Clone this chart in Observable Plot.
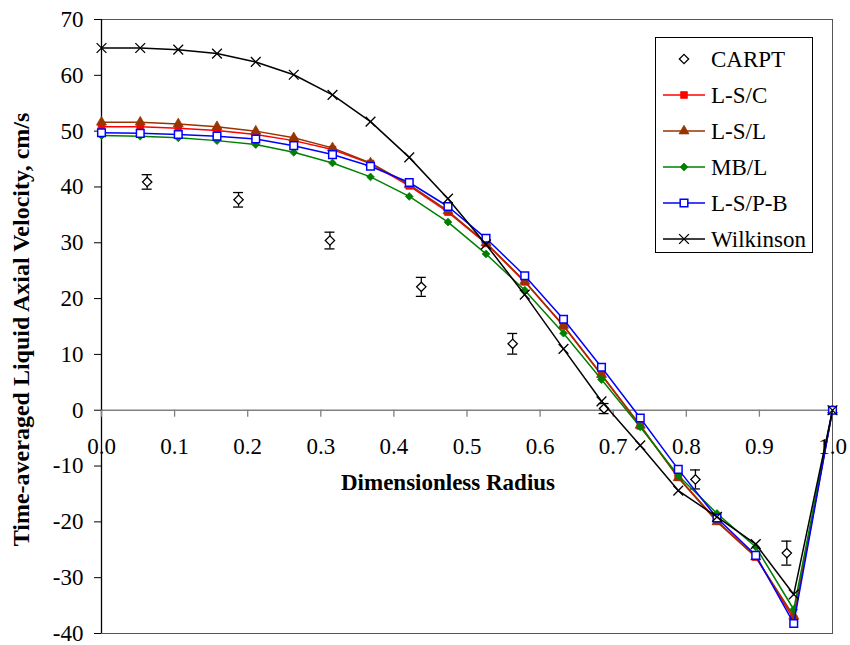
<!DOCTYPE html>
<html><head><meta charset="utf-8">
<script src="https://cdn.jsdelivr.net/npm/d3@7"></script>
<script src="https://cdn.jsdelivr.net/npm/@observablehq/plot@0.6"></script>
<style>
html,body{margin:0;padding:0;background:#fff;}
#wrap{position:relative;width:850px;height:645px;}
</style></head><body><div id="wrap"></div>
<script>
// ---- data ----
const radius = [0, 0.053, 0.105, 0.158, 0.211, 0.263, 0.316, 0.368, 0.421, 0.474,
                0.526, 0.579, 0.632, 0.684, 0.737, 0.789, 0.842, 0.895, 0.947, 1.0];
const lsC   = [50.8, 50.8, 50.5, 50.1, 49.4, 48.3, 46.7, 44.2, 40.2, 35.5, 29.9, 23.0, 15.1, 6.3, -2.8, -12.0, -19.8, -26.3, -37.4, 0];
const lsL   = [51.6, 51.6, 51.3, 50.8, 50.0, 48.8, 47.0, 44.3, 40.4, 35.7, 30.0, 23.1, 15.2, 6.4, -2.7, -12.1, -20.0, -26.3, -36.9, 0];
const mbL   = [49.2, 49.1, 48.8, 48.3, 47.6, 46.2, 44.3, 41.8, 38.3, 33.7, 28.0, 21.5, 13.8, 5.5, -3.0, -11.7, -18.5, -24.5, -35.7, 0];
const lsPB  = [49.7, 49.6, 49.4, 49.1, 48.6, 47.4, 45.8, 43.7, 40.8, 36.5, 30.8, 24.1, 16.3, 7.7, -1.4, -10.6, -19.3, -26.0, -38.2, 0];
const wilk  = [64.9, 64.9, 64.6, 63.9, 62.4, 60.1, 56.5, 51.7, 45.3, 37.9, 29.7, 20.7, 11.0, 1.6, -6.3, -14.4, -19.1, -24.0, -33.0, 0];

const carptR   = [0.0625, 0.1875, 0.3125, 0.4375, 0.5625, 0.6875, 0.8125, 0.9375];
const carptV   = [40.9, 37.7, 30.4, 22.1, 11.9, 0.3, -12.4, -25.6];
const carptErr = [1.3, 1.3, 1.5, 1.7, 1.85, 0.9, 1.7, 2.15];

const seriesNames  = ["L-S/C", "L-S/L", "MB/L", "L-S/P-B", "Wilkinson"];
const seriesValues = [lsC, lsL, mbL, lsPB, wilk];
const seriesColors = ["#ff0000", "#993300", "#008000", "#0000ff", "#000000"];

const xTicks = [0, 0.1, 0.2, 0.3, 0.4, 0.5, 0.6, 0.7, 0.8, 0.9, 1.0];
const xTickLabels = ["0.0", "0.1", "0.2", "0.3", "0.4", "0.5", "0.6", "0.7", "0.8", "0.9", "1.0"];
const yTicks = [-40, -30, -20, -10, 0, 10, 20, 30, 40, 50, 60, 70];
const xTitle = "Dimensionless Radius";
const yTitle = "Time-averaged Liquid Axial Velocity, cm/s";

const serif = '"Liberation Serif", "Times New Roman", serif';

// ---- marker styles ----
const markerStyle = {
  "CARPT":     {symbol: "diamond2", r: 4.2, fill: "#fff", stroke: "#000", strokeWidth: 1.3},
  "L-S/C":     {symbol: "square", r: 3.8, fill: "#ff0000", stroke: "#ff0000", strokeWidth: 0.8},
  "L-S/L":     {symbol: "triangle", r: 3.7, fill: "#993300", stroke: "#993300", strokeWidth: 0.8},
  "MB/L":      {symbol: "diamond2", r: 3.5, fill: "#008000", stroke: "#008000", strokeWidth: 0.8},
  "L-S/P-B":   {symbol: "square", r: 4.3, fill: "#fff", stroke: "#0000ff", strokeWidth: 1.5},
  "Wilkinson": {symbol: "times", r: 4.5, fill: "none", stroke: "#000", strokeWidth: 1.3}
};

const carpt = carptR.map((r, i) => ({r, v: carptV[i], lo: carptV[i] - carptErr[i], hi: carptV[i] + carptErr[i]}));
const series = seriesNames.map((name, s) => ({
  name, color: seriesColors[s],
  rows: radius.map((r, i) => ({r, v: seriesValues[s][i]}))
}));

const marks = [
  Plot.frame({stroke: "#555", strokeWidth: 1}),
  Plot.ruleY([0], {stroke: "#808080", strokeWidth: 1.6}),
  Plot.ruleX([0], {stroke: "#000", strokeWidth: 1.3}),
  Plot.ruleX(xTicks, {x: d => d, y1: 0, y2: 0, insetBottom: -7, stroke: "#808080", strokeWidth: 1.3}),
  Plot.text(xTicks, {x: d => d, y: 0, text: (d, i) => xTickLabels[i], dy: 36, fontSize: 23, fill: "#000"}),
  Plot.text([xTitle], {y: 0, frameAnchor: "middle", dx: -19, dy: 72, fontSize: 23, fontWeight: "bold", fill: "#000"}),
  Plot.text([yTitle], {x: 0, frameAnchor: "middle", rotate: -90, dx: -80, dy: 3, fontSize: 24, fontWeight: "bold", fill: "#000"}),
  // CARPT with error bars
  Plot.ruleX(carpt, {x: "r", y1: "lo", y2: "hi", stroke: "#000", strokeWidth: 1.3}),
  Plot.ruleY(carpt, {y: "lo", x1: "r", x2: "r", insetLeft: -5, insetRight: -5, stroke: "#000", strokeWidth: 1.3}),
  Plot.ruleY(carpt, {y: "hi", x1: "r", x2: "r", insetLeft: -5, insetRight: -5, stroke: "#000", strokeWidth: 1.3}),
  Plot.dot(carpt, {x: "r", y: "v", ...markerStyle["CARPT"]})
];
for (const s of series) {
  marks.push(Plot.line(s.rows, {x: "r", y: "v", stroke: s.color, strokeWidth: 1.5}));
  marks.push(Plot.dot(s.rows, {x: "r", y: "v", ...markerStyle[s.name]}));
}

const chart = Plot.plot({
  width: 850, height: 645,
  marginLeft: 101, marginRight: 18, marginTop: 19, marginBottom: 12,
  style: {fontFamily: serif, fontSize: "23px", color: "#000", background: "#fff", overflow: "visible"},
  x: {domain: [0, 1], axis: null},
  y: {domain: [-40, 70], ticks: yTicks, tickSize: 7, tickPadding: 11, tickFormat: d => String(d), label: null},
  marks
});
document.getElementById("wrap").appendChild(chart);

// ---- legend (inside the plot area, as in the reference) ----
const legendNames = ["CARPT", ...seriesNames];
const legendColors = [null, ...seriesColors];
const symMap = {diamond2: d3.symbolDiamond2, square: d3.symbolSquare, triangle: d3.symbolTriangle, times: d3.symbolTimes};
const lg = d3.select(chart).append("g").attr("transform", "translate(655,37)").attr("text-anchor", "start");
lg.append("rect").attr("x", 0.5).attr("y", 0.5).attr("width", 157).attr("height", 215)
  .attr("fill", "#fff").attr("stroke", "#000").attr("stroke-width", 1);
legendNames.forEach((name, i) => {
  const cy = 22 + i * 36;
  const st = markerStyle[name];
  const g = lg.append("g").attr("transform", `translate(0,${cy})`);
  if (legendColors[i]) g.append("line").attr("x1", 8).attr("x2", 50).attr("y1", 0).attr("y2", 0)
      .attr("stroke", legendColors[i]).attr("stroke-width", 1.5);
  g.append("path").attr("transform", "translate(29,0)")
    .attr("d", d3.symbol(symMap[st.symbol], st.r * st.r * Math.PI)())
    .attr("fill", st.fill).attr("stroke", st.stroke).attr("stroke-width", st.strokeWidth);
  g.append("text").attr("x", 56).attr("y", 0).attr("dy", "0.35em").attr("text-anchor", "start")
    .attr("font-size", 23).attr("fill", "#000").text(name);
});
</script>
</body></html>
